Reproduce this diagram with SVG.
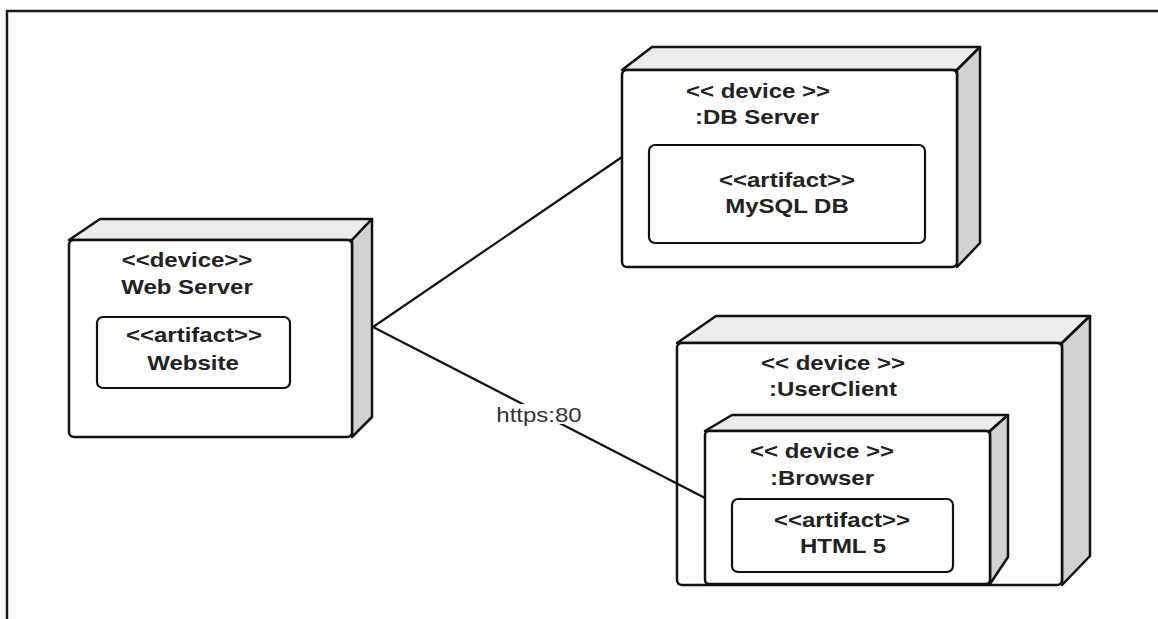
<svg xmlns="http://www.w3.org/2000/svg" width="1158" height="619" viewBox="0 0 1158 619">
<style>
.frame{fill:none;stroke:#1a1a1a;stroke-width:2.5}
.top{fill:#ececec;stroke:#111;stroke-width:2.5;stroke-linejoin:round}
.side{fill:#d2d2d2;stroke:#111;stroke-width:2.5;stroke-linejoin:round}
.front{fill:#fff;stroke:#111;stroke-width:2.5}
.art{fill:#fff;stroke:#111;stroke-width:2.2}
.t{font-family:"Liberation Sans",Arial,sans-serif;font-weight:bold;font-size:20px;fill:#222;text-anchor:middle}
.lbl{font-family:"Liberation Sans",Arial,sans-serif;font-size:20px;fill:#333;text-anchor:middle}
.conn{stroke:#111;stroke-width:2.2;fill:none}
</style>
<rect width="1158" height="619" fill="#fff"/>
<path class="frame" d="M7,619 V11 H1158"/>
<g id="web-server">
<polygon class="top" points="69,240 100,219 372,219 352,240"/>
<polygon class="side" points="352,240 372,219 372,417 352,437"/>
<rect class="front" x="69" y="240" width="283" height="197" rx="5"/>
<text class="t" transform="translate(187,267) scale(1.2,1)">&lt;&lt;device&gt;&gt;</text>
<text class="t" transform="translate(187,294) scale(1.2,1)">Web Server</text>
</g>
<g id="website">
<rect class="art" x="97" y="317" width="193" height="71" rx="6"/>
<text class="t" transform="translate(194,342) scale(1.2,1)">&lt;&lt;artifact&gt;&gt;</text>
<text class="t" transform="translate(193,370) scale(1.2,1)">Website</text>
</g>
<g id="db-server">
<polygon class="top" points="622,70 652,47 980,47 957,70"/>
<polygon class="side" points="957,70 980,47 980,243 957,267"/>
<rect class="front" x="622" y="70" width="335" height="197" rx="5"/>
<text class="t" transform="translate(758,98) scale(1.2,1)">&lt;&lt; device &gt;&gt;</text>
<text class="t" transform="translate(757,124) scale(1.2,1)">:DB Server</text>
</g>
<g id="mysql-db">
<rect class="art" x="649" y="145" width="276" height="98" rx="6"/>
<text class="t" transform="translate(787,187) scale(1.2,1)">&lt;&lt;artifact&gt;&gt;</text>
<text class="t" transform="translate(787,213) scale(1.2,1)">MySQL DB</text>
</g>
<g id="user-client">
<polygon class="top" points="677,343 716,316 1090,316 1062,343"/>
<polygon class="side" points="1062,343 1090,316 1090,556 1062,585"/>
<rect class="front" x="677" y="343" width="385" height="242" rx="5"/>
<text class="t" transform="translate(833,370) scale(1.2,1)">&lt;&lt; device &gt;&gt;</text>
<text class="t" transform="translate(833,396) scale(1.2,1)">:UserClient</text>
</g>
<g id="browser">
<polygon class="top" points="705,431 732,415 1008,415 990,431"/>
<polygon class="side" points="990,431 1008,415 1008,557 990,584"/>
<rect class="front" x="705" y="431" width="285" height="153" rx="4"/>
<text class="t" transform="translate(822,458) scale(1.2,1)">&lt;&lt; device &gt;&gt;</text>
<text class="t" transform="translate(822,485) scale(1.2,1)">:Browser</text>
</g>
<g id="html5">
<rect class="art" x="732" y="499" width="221" height="73" rx="6"/>
<text class="t" transform="translate(842,527) scale(1.2,1)">&lt;&lt;artifact&gt;&gt;</text>
<text class="t" transform="translate(843,553) scale(1.2,1)">HTML 5</text>
</g>
<g id="connectors">
<line class="conn" x1="373" y1="327" x2="622" y2="157"/>
<line class="conn" x1="373" y1="327" x2="705" y2="498"/>
<rect x="497" y="404" width="86" height="20" fill="#fff"/>
<text class="lbl" transform="translate(539,421.5) scale(1.2,1)">https:80</text>
</g>
</svg>
